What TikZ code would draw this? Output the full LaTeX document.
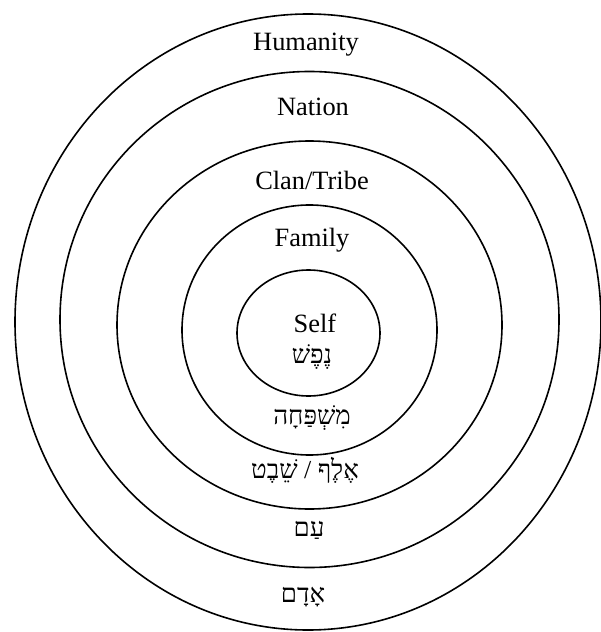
\documentclass[tikz,border=0pt]{standalone}
\usepackage{fontspec}
\setmainfont{Liberation Serif}
\newfontfamily\hebfont[Script=Hebrew]{Liberation Serif}
\TeXXeTstate=1
\usetikzlibrary{positioning}

\tikzset{
  ring/.style={line width=1.6bp},
  lbl/.style={font=\fontsize{26.5}{28}\selectfont, inner sep=0pt},
  heb/.style={font=\fontsize{26}{28}\selectfont\hebfont, inner sep=0pt}
}

\begin{document}
\begin{tikzpicture}[x=1bp,y=-1bp,line cap=round,line join=round]
\useasboundingbox (0,0) rectangle (601,632);
% rings, outer to inner
\draw[ring] (308,322) ellipse [x radius=293, y radius=308];
\draw[ring] (309.5,319.5) ellipse [x radius=249.5, y radius=248];
\draw[ring] (309.5,325) ellipse [x radius=192.5, y radius=184];
\draw[ring] (309.5,330) ellipse [x radius=127.5, y radius=125];
\draw[ring] (308.5,333) ellipse [x radius=71.5, y radius=63];
%
\node[lbl] (humanity) at (306,45) {Humanity};
\node[lbl] (nation) at (313,107) {Nation};
\node[lbl] (clan) at (312,180) {Clan/Tribe};
\node[lbl] (family) at (312,240) {Family};
\node[lbl] (self) at (315,323) {Self};
\node[heb] (nefesh) at (312,357) {\beginR נֶפֶשׁ\endR};
\node[heb] (mishpacha) at (312,418) {\beginR מִשְׁפַּחָה\endR};
\node[heb] (shevet) at (305,470) {\beginR אֶלֶף / שֵׁבֶט\endR};
\node[heb] (am) at (309,530) {\beginR עַם\endR};
\node[heb] (adam) at (303,597) {\beginR אָדָם\endR};
\end{tikzpicture}
\end{document}
